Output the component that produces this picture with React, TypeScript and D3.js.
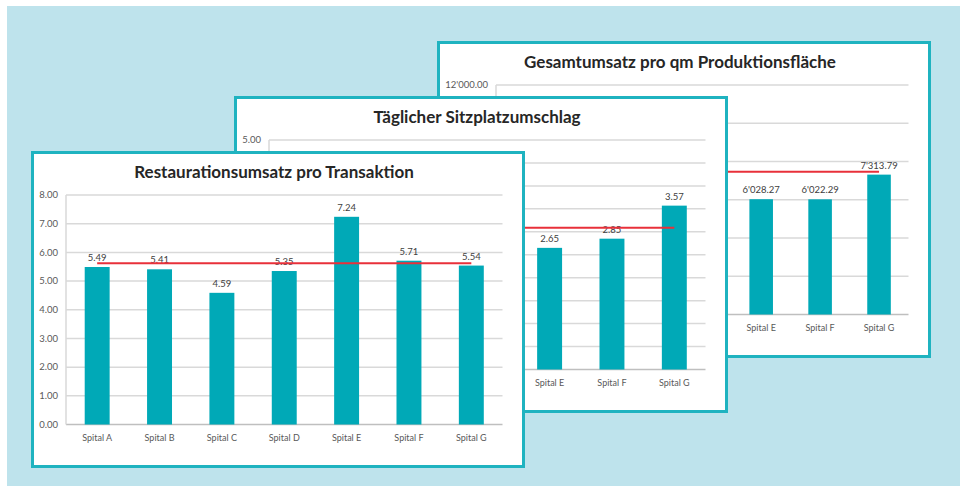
import React from "react";
import * as d3 from "d3";

// Kategorien
const spitaeler = ["Spital A", "Spital B", "Spital C", "Spital D", "Spital E", "Spital F", "Spital G"];

// Restaurationsumsatz pro Transaktion
const umsatzTransaktion = [5.49, 5.41, 4.59, 5.35, 7.24, 5.71, 5.54];
const mittelTransaktion = 5.62;
const ticksTransaktion = [0, 1, 2, 3, 4, 5, 6, 7, 8];

// Täglicher Sitzplatzumschlag (A–D verdeckt)
const sitzplatzumschlag = [null, null, null, null, 2.65, 2.85, 3.57];
const mittelSitzplatz = 3.09;
const ticksSitzplatz = [0, 0.5, 1, 1.5, 2, 2.5, 3, 3.5, 4, 4.5, 5];

// Gesamtumsatz pro qm Produktionsfläche (A–D verdeckt)
const umsatzFlaeche = [null, null, null, null, 6028.27, 6022.29, 7313.79];
const mittelFlaeche = 7470;
const ticksFlaeche = [0, 2000, 4000, 6000, 8000, 10000, 12000];

const chLocale = d3.formatLocale({ decimal: ".", thousands: "'", grouping: [3], currency: ["", ""] });
const fmt = chLocale.format(",.2f");

const CARD_W = 494;
const CARD_H = 317;
const TEAL = "#00a9b7";
const BORDER = "#1fb3c0";
const FONT = "Lato, 'Open Sans', sans-serif";

type CardProps = {
  x: number;
  y: number;
  title: string;
  values: (number | null)[];
  mean: number;
  ticks: number[];
  left: number;
  // sichtbare Beschriftungen der Y-Achse (Rest liegt hinter der vorderen Karte)
  visibleTicks?: number[];
};

const Card = ({ x, y, title, values, mean, ticks, left, visibleTicks }: CardProps) => {
  const top = 44;
  const right = 471.5;
  const bottom = 273.5;

  const xScale = d3
    .scaleBand()
    .domain(spitaeler)
    .range([left, right])
    .paddingInner(0.6)
    .paddingOuter(0.3);

  const yScale = d3
    .scaleLinear()
    .domain([0, d3.max(ticks) as number])
    .range([bottom, top]);

  const cx = (name: string) => (xScale(name) as number) + xScale.bandwidth() / 2;
  const labelTicks = visibleTicks ?? ticks;

  return (
    <g transform={`translate(${x},${y})`}>
      <rect x={1.5} y={1.5} width={CARD_W - 3} height={CARD_H - 3} fill="#fff" stroke={BORDER} strokeWidth={3} />

      {/* Gitterlinien */}
      {ticks.map((t) => (
        <line
          key={t}
          x1={left}
          x2={right}
          y1={yScale(t)}
          y2={yScale(t)}
          stroke={t === 0 ? "#bfbfbf" : "#d9d9d9"}
          strokeWidth={1.5}
        />
      ))}
      <line x1={left} x2={left} y1={top} y2={bottom} stroke="#d9d9d9" strokeWidth={1.5} />

      {/* Y-Achse */}
      {labelTicks.map((t) => (
        <text
          key={t}
          x={left - 8}
          y={yScale(t)}
          dy="0.35em"
          textAnchor="end"
          fontSize={9.5}
          fill="#595959"
          fontFamily={FONT}
        >
          {fmt(t)}
        </text>
      ))}

      {/* Balken */}
      {spitaeler.map((s, i) =>
        values[i] == null ? null : (
          <rect
            key={s}
            x={xScale(s)}
            y={yScale(values[i] as number)}
            width={xScale.bandwidth()}
            height={bottom - yScale(values[i] as number)}
            fill={TEAL}
          />
        )
      )}

      {/* Werte */}
      {spitaeler.map((s, i) =>
        values[i] == null ? null : (
          <text
            key={s}
            x={cx(s)}
            y={yScale(values[i] as number) - 6}
            textAnchor="middle"
            fontSize={9.5}
            fill="#404040"
            fontFamily={FONT}
          >
            {fmt(values[i] as number)}
          </text>
        )
      )}

      {/* Durchschnitt */}
      <line
        x1={cx(spitaeler[0])}
        x2={cx(spitaeler[spitaeler.length - 1])}
        y1={yScale(mean)}
        y2={yScale(mean)}
        stroke="#e8303a"
        strokeWidth={2}
      />

      {/* X-Achse */}
      {spitaeler.map((s) => (
        <text
          key={s}
          x={cx(s)}
          y={bottom + 13.5}
          dy="0.35em"
          textAnchor="middle"
          fontSize={9}
          fill="#595959"
          fontFamily={FONT}
        >
          {s}
        </text>
      ))}

      <text
        x={243}
        y={21.5}
        dy="0.35em"
        textAnchor="middle"
        fontSize={17}
        fontWeight="bold"
        fill="#262626"
        fontFamily={FONT}
      >
        {title}
      </text>
    </g>
  );
};

export default function App() {
  return (
    <svg width={960} height={486} style={{ position: "absolute", left: 0, top: 0, display: "block" }}>
      <rect width={960} height={486} fill="#fff" />
      <rect x={7} y={6} width={953} height={480} fill="#bee3ec" />
      <Card
        x={437}
        y={41}
        title="Gesamtumsatz pro qm Produktionsfläche"
        values={umsatzFlaeche}
        mean={mittelFlaeche}
        ticks={ticksFlaeche}
        left={59}
        visibleTicks={[12000]}
      />
      <Card
        x={234}
        y={96}
        title="Täglicher Sitzplatzumschlag"
        values={sitzplatzumschlag}
        mean={mittelSitzplatz}
        ticks={ticksSitzplatz}
        left={35}
        visibleTicks={[5]}
      />
      <Card
        x={31}
        y={151}
        title="Restaurationsumsatz pro Transaktion"
        values={umsatzTransaktion}
        mean={mittelTransaktion}
        ticks={ticksTransaktion}
        left={35}
      />
    </svg>
  );
}
